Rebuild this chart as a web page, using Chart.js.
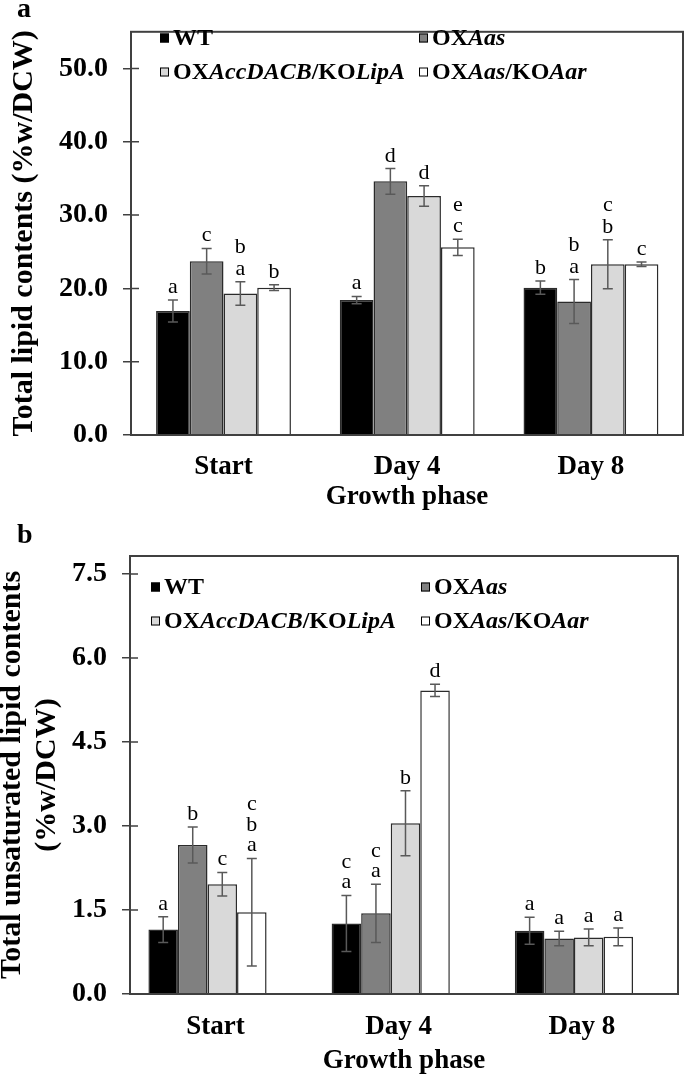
<!DOCTYPE html>
<html>
<head>
<meta charset="utf-8">
<script src="https://cdn.jsdelivr.net/npm/chart.js@4.4.1/dist/chart.umd.min.js"></script>
<style>
  html, body { margin: 0; padding: 0; background: #fff; }
  body { width: 685px; height: 1077px; position: relative; overflow: hidden; }
  canvas { position: absolute; left: 0; }
  #chartA { top: 0; }
  #chartB { top: 505px; }
</style>
</head>
<body>
<canvas id="chartA" width="685" height="525"></canvas>
<canvas id="chartB" width="685" height="572"></canvas>
<script>
// Фазы роста и штаммы
const phases = ['Start', 'Day 4', 'Day 8'];
const strains = ['WT', 'OXAas', 'OXAccDACB/KOLipA', 'OXAas/KOAar'];
const strainColors = ['#000000', '#808080', '#d9d9d9', '#ffffff'];
// куски подписи легенды: [текст, курсив]
const strainRuns = [
  [['WT', false]],
  [['OX', false], ['Aas', true]],
  [['OX', false], ['AccDACB', true], ['/KO', false], ['LipA', true]],
  [['OX', false], ['Aas', true], ['/KO', false], ['Aar', true]]
];

// (a) Total lipid contents (%w/DCW)
const totalWT = [16.9, 18.4, 20.1];
const totalAas = [23.7, 34.6, 18.2];
const totalAcc = [19.3, 32.6, 23.3];
const totalAar = [20.1, 25.6, 23.3];
const totalErrWT = [1.5, 0.5, 0.9];
const totalErrAas = [1.75, 1.75, 3.0];
const totalErrAcc = [1.6, 1.4, 3.35];
const totalErrAar = [0.4, 1.1, 0.3];
// буквы сверху вниз
const totalLetWT = ['a', 'a', 'b'];
const totalLetAas = ['c', 'd', 'ba'];
const totalLetAcc = ['ba', 'd', 'cb'];
const totalLetAar = ['b', 'ec', 'c'];
const totalTicks = [0, 10, 20, 30, 40, 50];

// (b) Total unsaturated lipid contents (%w/DCW)
const unsatWT = [1.15, 1.26, 1.13];
const unsatAas = [2.66, 1.44, 0.99];
const unsatAcc = [1.96, 3.05, 1.01];
const unsatAar = [1.46, 5.42, 1.02];
const unsatErrWT = [0.23, 0.5, 0.24];
const unsatErrAas = [0.32, 0.52, 0.13];
const unsatErrAcc = [0.21, 0.58, 0.15];
const unsatErrAar = [0.96, 0.11, 0.16];
const unsatLetWT = ['a', 'ca', 'a'];
const unsatLetAas = ['b', 'ca', 'a'];
const unsatLetAcc = ['c', 'b', 'a'];
const unsatLetAar = ['cba', 'd', 'a'];
const unsatTicks = [0, 1.5, 3, 4.5, 6, 7.5];

const SERIF = '"Liberation Serif", "Times New Roman", serif';
const LINE = '#404040';

// Рамка и внутренние засечки оси Y
const framePlugin = {
  id: 'frame',
  afterDatasetsDraw(chart) {
    const { ctx, chartArea: a } = chart;
    const y = chart.scales.y;
    ctx.save();
    ctx.strokeStyle = LINE;
    ctx.lineWidth = 2;
    ctx.strokeRect(a.left, a.top, a.right - a.left, a.bottom - a.top);
    ctx.lineWidth = 1.5;
    ctx.beginPath();
    y.ticks.forEach(t => {
      const py = y.getPixelForValue(t.value);
      ctx.moveTo(a.left, py);
      ctx.lineTo(a.left + 8, py);
    });
    ctx.stroke();
    ctx.restore();
  }
};

// Планки погрешностей и буквы значимости
const errorBarsPlugin = {
  id: 'errorBars',
  afterDatasetsDraw(chart, args, opts) {
    const ctx = chart.ctx;
    const y = chart.scales.y;
    chart.data.datasets.forEach((ds, di) => {
      const meta = chart.getDatasetMeta(di);
      meta.data.forEach((bar, i) => {
        const v = ds.data[i].y;
        const e = ds.errors[i];
        const top = y.getPixelForValue(v + e);
        const bot = y.getPixelForValue(v - e);
        ctx.save();
        ctx.strokeStyle = '#595959';
        ctx.lineWidth = 1.5;
        ctx.beginPath();
        ctx.moveTo(bar.x, top); ctx.lineTo(bar.x, bot);
        ctx.moveTo(bar.x - 5, top); ctx.lineTo(bar.x + 5, top);
        ctx.moveTo(bar.x - 5, bot); ctx.lineTo(bar.x + 5, bot);
        ctx.stroke();

        ctx.fillStyle = '#000';
        ctx.font = '22px ' + SERIF;
        ctx.textAlign = 'center';
        ctx.textBaseline = 'alphabetic';
        const letters = ds.letters[i];
        for (let k = 0; k < letters.length; k++) {
          ctx.fillText(letters[letters.length - 1 - k], bar.x, top - 7 - k * opts.gap);
        }
        ctx.restore();
      });
    });
  }
};

// Легенда (с курсивом) и буква панели
const legendPlugin = {
  id: 'richLegend',
  afterDraw(chart, args, opts) {
    const ctx = chart.ctx;
    ctx.save();
    ctx.fillStyle = '#000';
    ctx.textBaseline = 'alphabetic';
    ctx.textAlign = 'left';
    ctx.font = 'bold 28px ' + SERIF;
    ctx.fillText(opts.panel, 17, opts.panelY);

    ctx.textBaseline = 'middle';
    strainRuns.forEach((runs, i) => {
      const mx = opts.xs[i % 2];
      const my = opts.ys[Math.floor(i / 2)];
      ctx.fillStyle = strainColors[i];
      ctx.fillRect(mx, my - 4.5, 9, 9);
      ctx.strokeStyle = '#000';
      ctx.lineWidth = 1;
      ctx.strokeRect(mx + 0.5, my - 4, 8, 8);
      let x = mx + 13;
      ctx.fillStyle = '#000';
      runs.forEach(([text, italic]) => {
        ctx.font = (italic ? 'italic ' : '') + 'bold 24px ' + SERIF;
        ctx.fillText(text, x, my + 1);
        x += ctx.measureText(text).width;
      });
    });
    ctx.restore();
  }
};

function makePanel(canvasId, p) {
  const datasets = p.values.map((vals, i) => ({
    label: strains[i],
    data: vals.map((v, j) => ({ x: j, y: v })),
    errors: p.errors[i],
    letters: p.letters[i],
    backgroundColor: strainColors[i],
    borderColor: '#2b2b2b',
    borderWidth: 1.5,
    categoryPercentage: p.catPct,
    barPercentage: 1
  }));

  const tickFont = { family: SERIF, size: 28, weight: 'bold' };

  return new Chart(document.getElementById(canvasId), {
    type: 'bar',
    data: { datasets },
    options: {
      responsive: false,
      animation: false,
      events: [],
      layout: { padding: { top: p.padTop, right: p.padRight, left: 0, bottom: 0 } },
      plugins: {
        legend: { display: false },
        tooltip: { enabled: false },
        errorBars: { gap: p.letterGap },
        richLegend: { panel: p.panel, panelY: p.panelY, xs: p.legendX, ys: p.legendY }
      },
      scales: {
        x: {
          type: 'linear',
          offset: false,
          bounds: 'data',
          min: p.xMin,
          max: p.xMax,
          afterBuildTicks: s => { s.ticks = phases.map((_, i) => ({ value: i })); },
          ticks: {
            callback: v => phases[v],
            font: { family: SERIF, size: 27, weight: 'bold' },
            color: '#000',
            padding: p.xTickPad,
            labelOffset: p.labelOffset,
            maxRotation: 0,
            autoSkip: false
          },
          grid: { display: false, drawTicks: false, offset: false },
          border: { display: false },
          title: {
            display: true,
            text: 'Growth phase',
            font: { family: SERIF, size: 27, weight: 'bold' },
            color: '#000',
            padding: { top: 0, bottom: p.xTitlePad }
          },
          afterFit: s => { s.height = p.xHeight; }
        },
        y: {
          min: 0,
          max: p.yMax,
          afterBuildTicks: s => { s.ticks = p.ticks.map(v => ({ value: v })); },
          ticks: {
            callback: v => v.toFixed(1),
            font: tickFont,
            color: '#000',
            padding: 15
          },
          grid: { drawOnChartArea: false, tickLength: 8, color: LINE, lineWidth: 1.5 },
          border: { display: false },
          title: {
            display: true,
            text: p.yTitle,
            font: { family: SERIF, size: 30, weight: 'bold', lineHeight: p.yTitleLH },
            color: '#000',
            padding: { top: p.yTitlePad, bottom: 0 }
          },
          afterFit: s => { s.width = p.yWidth; }
        }
      }
    },
    plugins: [framePlugin, errorBarsPlugin, legendPlugin]
  });
}

makePanel('chartA', {
  values: [totalWT, totalAas, totalAcc, totalAar],
  errors: [totalErrWT, totalErrAas, totalErrAcc, totalErrAar],
  letters: [totalLetWT, totalLetAas, totalLetAcc, totalLetAar],
  ticks: totalTicks,
  yMax: 55,
  yTitle: 'Total lipid contents (%w/DCW)',
  yTitleLH: 1.2,
  yTitlePad: 6,
  yWidth: 131,
  xMin: -0.5035,
  xMax: 2.501,
  catPct: 0.734,
  xHeight: 90,
  xTickPad: 16,
  xTitlePad: 12,
  labelOffset: 0,
  padTop: 12,
  padRight: 2,
  letterGap: 21.5,
  panel: 'a',
  panelY: 17,
  legendX: [160, 419],
  legendY: [38, 72]
});

makePanel('chartB', {
  values: [unsatWT, unsatAas, unsatAcc, unsatAar],
  errors: [unsatErrWT, unsatErrAas, unsatErrAcc, unsatErrAar],
  letters: [unsatLetWT, unsatLetAas, unsatLetAcc, unsatLetAar],
  ticks: unsatTicks,
  yMax: 7.82,
  yTitle: ['Total unsaturated lipid contents', '(%w/DCW)'],
  yTitleLH: 1.15,
  yTitlePad: -5,
  yWidth: 130,
  xMin: -0.423,
  xMax: 2.568,
  catPct: 0.645,
  xHeight: 83,
  xTickPad: 17,
  xTitlePad: 0,
  labelOffset: 8,
  padTop: 51,
  padRight: 7,
  letterGap: 20.5,
  panel: 'b',
  panelY: 38,
  legendX: [151, 421],
  legendY: [82, 116]
});
</script>
</body>
</html>
